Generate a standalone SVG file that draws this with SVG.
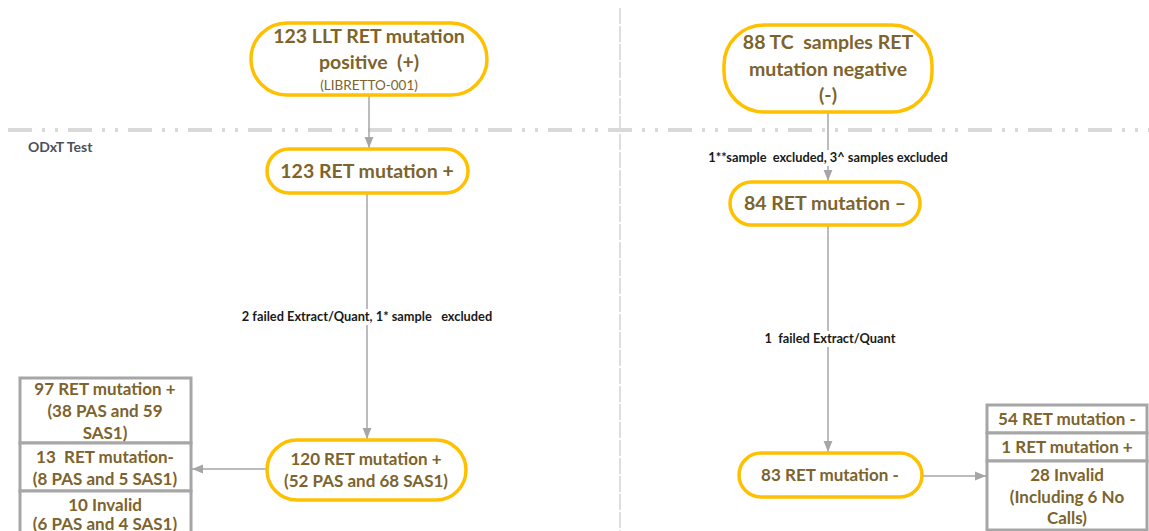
<svg xmlns="http://www.w3.org/2000/svg" width="1149" height="531" viewBox="0 0 1149 531">
<defs>
<style>
.pill{fill:#ffffff;stroke:#FFC000;stroke-width:3.5}
.box{fill:#ffffff;stroke:#A6A6A6;stroke-width:3}
.t{font-family:Lato,"Open Sans",sans-serif;font-weight:bold;fill:#7d632c;text-anchor:middle;white-space:pre}
.big{font-size:19.5px}
.mid{font-size:17px}
.sm{font-size:13.5px;font-weight:normal}
.lbl{font-family:Lato,"Open Sans",sans-serif;font-weight:bold;font-size:12.8px;fill:#1a1a1a;text-anchor:middle;white-space:pre}
.conn{stroke:#A6A6A6;stroke-width:1.5;fill:none}
</style>
<marker id="arrB" viewBox="0 0 10 10" refX="10" refY="5" markerWidth="11" markerHeight="11" orient="auto" markerUnits="userSpaceOnUse">
<path d="M0,1 L10,5 L0,9 z" fill="#A6A6A6"/>
</marker>
</defs>
<rect width="1149" height="531" fill="#ffffff"/>
<g id="dividers">
<line x1="620" y1="8" x2="620" y2="531" stroke="#C8C8C8" stroke-width="1.2" stroke-dasharray="16,2"/>
<line x1="8" y1="130" x2="1149" y2="130" stroke="#D9D9D9" stroke-width="4" stroke-dasharray="24,10,3,10,3,10" stroke-linecap="butt"/>
<text x="28" y="152" style="font-family:Lato,'Open Sans',sans-serif;font-weight:bold;font-size:14px;fill:#4d4f5c">ODxT Test</text>
</g>
<g id="connectors">
<line class="conn" x1="369" y1="95" x2="369" y2="148" marker-end="url(#arrB)"/>
<line class="conn" x1="828" y1="112" x2="828" y2="181" marker-end="url(#arrB)"/>
<rect x="704" y="150" width="248" height="16" fill="#ffffff"/>
<text class="lbl" x="828" y="162">1**sample  excluded, 3^ samples excluded</text>
<line class="conn" x1="367" y1="193" x2="367" y2="439" marker-end="url(#arrB)"/>
<rect x="233" y="309" width="268" height="16" fill="#ffffff"/>
<text class="lbl" x="367" y="321">2 failed Extract/Quant, 1* sample   excluded</text>
<line class="conn" x1="828" y1="225" x2="828" y2="452" marker-end="url(#arrB)"/>
<rect x="758" y="331" width="144" height="16" fill="#ffffff"/>
<text class="lbl" x="830" y="343">1  failed Extract/Quant</text>
<line class="conn" x1="266" y1="469" x2="192" y2="469" marker-end="url(#arrB)"/>
<line class="conn" x1="923" y1="476" x2="986" y2="476" marker-end="url(#arrB)"/>
</g>
<g id="node-llt">
<rect class="pill" x="251" y="23" width="236" height="72" rx="36"/>
<text class="t big" x="369" y="43">123 LLT RET mutation</text>
<text class="t big" x="369" y="69">positive  (+)</text>
<text class="t sm" x="369" y="90">(LIBRETTO-001)</text>
</g>
<g id="node-tc">
<rect class="pill" x="724" y="25" width="208" height="87" rx="40"/>
<text class="t big" x="828" y="49">88 TC  samples RET</text>
<text class="t big" x="828" y="76">mutation negative</text>
<text class="t big" x="828" y="102">(-)</text>
</g>
<g id="node-123">
<rect class="pill" x="267" y="149" width="201" height="44" rx="22"/>
<text class="t big" x="367" y="178">123 RET mutation +</text>
</g>
<g id="node-84">
<rect class="pill" x="730" y="182" width="190" height="43" rx="21.5"/>
<text class="t big" x="825" y="210">84 RET mutation –</text>
</g>
<g id="node-120">
<rect class="pill" x="267" y="440" width="199" height="60" rx="30"/>
<text class="t mid" x="366" y="465">120 RET mutation +</text>
<text class="t mid" x="366" y="487">(52 PAS and 68 SAS1)</text>
</g>
<g id="node-83">
<rect class="pill" x="739" y="453" width="183" height="44" rx="22"/>
<text class="t mid" x="830" y="481">83 RET mutation -</text>
</g>
<g id="box-left-1">
<rect class="box" x="20" y="378" width="171" height="65"/>
<text class="t mid" x="105" y="395">97 RET mutation +</text>
<text class="t mid" x="105" y="417">(38 PAS and 59</text>
<text class="t mid" x="105" y="439">SAS1)</text>
</g>
<g id="box-left-2">
<rect class="box" x="20" y="443" width="171" height="48"/>
<text class="t mid" x="105" y="463">13  RET mutation-</text>
<text class="t mid" x="105" y="485">(8 PAS and 5 SAS1)</text>
</g>
<g id="box-left-3">
<rect class="box" x="20" y="491" width="171" height="50"/>
<text class="t mid" x="105" y="511">10 Invalid</text>
<text class="t mid" x="105" y="530">(6 PAS and 4 SAS1)</text>
</g>
<g id="box-right-1">
<rect class="box" x="987" y="405" width="160" height="28"/>
<text class="t mid" x="1067" y="425">54 RET mutation -</text>
</g>
<g id="box-right-2">
<rect class="box" x="987" y="433" width="160" height="28"/>
<text class="t mid" x="1067" y="453">1 RET mutation +</text>
</g>
<g id="box-right-3">
<rect class="box" x="987" y="461" width="160" height="69"/>
<text class="t mid" x="1067" y="481">28 Invalid</text>
<text class="t mid" x="1067" y="503">(Including 6 No</text>
<text class="t mid" x="1067" y="524">Calls)</text>
</g>
</svg>
